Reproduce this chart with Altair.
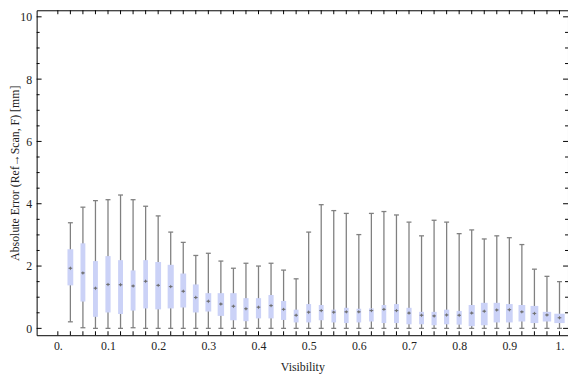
import altair as alt
import pandas as pd

# ---- data ----
visibility = [0.025, 0.05, 0.075, 0.1, 0.125, 0.15, 0.175, 0.2, 0.225, 0.25,
              0.275, 0.3, 0.325, 0.35, 0.375, 0.4, 0.425, 0.45, 0.475, 0.5,
              0.525, 0.55, 0.575, 0.6, 0.625, 0.65, 0.675, 0.7, 0.725, 0.75,
              0.775, 0.8, 0.825, 0.85, 0.875, 0.9, 0.925, 0.95, 0.975, 1.0]
whisker_low = [0.21, 0.02, 0.0, 0.0, 0.0, 0.02, 0.0, 0.0, 0.0, 0.0,
               0.0, 0.0, 0.0, 0.0, 0.0, 0.0, 0.0, 0.0, 0.0, 0.0,
               0.0, 0.0, 0.0, 0.0, 0.0, 0.0, 0.0, 0.0, 0.0, 0.0,
               0.0, 0.0, 0.0, 0.0, 0.0, 0.0, 0.0, 0.0, 0.0, 0.0]
q1 = [1.38, 0.86, 0.37, 0.51, 0.46, 0.57, 0.64, 0.61, 0.64, 0.67,
      0.51, 0.54, 0.40, 0.26, 0.23, 0.32, 0.32, 0.27, 0.19, 0.19,
      0.26, 0.19, 0.17, 0.19, 0.22, 0.17, 0.17, 0.13, 0.13, 0.10,
      0.13, 0.12, 0.07, 0.10, 0.19, 0.19, 0.22, 0.17, 0.22, 0.17]
median = [1.93, 1.78, 1.29, 1.41, 1.40, 1.36, 1.51, 1.38, 1.34, 1.19,
          0.99, 0.87, 0.78, 0.71, 0.63, 0.68, 0.73, 0.61, 0.42, 0.52,
          0.57, 0.52, 0.53, 0.53, 0.57, 0.61, 0.57, 0.49, 0.42, 0.40,
          0.43, 0.42, 0.49, 0.55, 0.59, 0.60, 0.53, 0.48, 0.43, 0.34]
q3 = [2.54, 2.73, 2.16, 2.32, 2.19, 1.86, 2.19, 2.13, 2.04, 1.76,
      1.41, 1.13, 1.13, 1.13, 0.97, 0.97, 1.07, 0.88, 0.60, 0.78,
      0.75, 0.60, 0.66, 0.63, 0.64, 0.75, 0.78, 0.66, 0.53, 0.53,
      0.60, 0.56, 0.75, 0.82, 0.82, 0.78, 0.75, 0.72, 0.53, 0.47]
whisker_high = [3.39, 3.89, 4.10, 4.13, 4.28, 4.13, 3.92, 3.61, 3.09, 2.76,
                2.34, 2.41, 2.16, 1.93, 2.09, 2.00, 2.09, 1.87, 1.59, 3.09,
                3.97, 3.78, 3.69, 3.01, 3.69, 3.75, 3.64, 3.41, 2.97, 3.47,
                3.41, 3.04, 3.16, 2.87, 2.97, 2.91, 2.69, 1.90, 1.67, 1.50]
# relative box width (largest box = 1)
box_weight = [0.56, 0.47, 0.47, 0.50, 0.47, 0.47, 0.45, 0.56, 0.59, 0.56,
              0.56, 0.56, 0.62, 0.62, 0.50, 0.50, 0.50, 0.50, 0.47, 0.47,
              0.47, 0.45, 0.45, 0.45, 0.45, 0.45, 0.47, 0.50, 0.47, 0.50,
              0.50, 0.50, 0.59, 0.65, 0.61, 0.65, 0.65, 0.75, 0.81, 1.00]

x_tick_values = [round(0.025 * k, 3) for k in range(41)]
x_label_values = [0.0, 0.1, 0.2, 0.3, 0.4, 0.5, 0.6, 0.7, 0.8, 0.9, 1.0]
y_major_values = [0, 2, 4, 6, 8, 10]
y_minor_values = [v / 2 for v in range(21) if v % 4 != 0]

x_title = "Visibility"
y_title = "Absolute Error (Ref\u2192Scan, F) [mm]"

# ---- tables ----
df = pd.DataFrame({"v": visibility, "lo": whisker_low, "q1": q1, "med": median,
                   "q3": q3, "hi": whisker_high, "w": box_weight})
caps = pd.concat([pd.DataFrame({"v": visibility, "lo": whisker_low}),
                  pd.DataFrame({"v": visibility, "lo": whisker_high})])
xt = pd.DataFrame({"v": x_tick_values})
ymaj = pd.DataFrame({"lo": y_major_values})
ymin = pd.DataFrame({"lo": y_minor_values})

W, H = 538, 329
FONT = "'Liberation Serif', 'Times New Roman', Times, serif"
GRAY = "#808080"
BOX = "#CBD2F7"
TXT = "#222222"

xscale = alt.Scale(domain=[-0.0324, 1.0071], nice=False, zero=False)
yscale = alt.Scale(domain=[-0.22, 10.21], nice=False, zero=False)

xaxis = alt.Axis(values=x_label_values, title=x_title, grid=False, ticks=False,
                 domain=False, labelPadding=5, titlePadding=11,
                 labelFont=FONT, titleFont=FONT, labelFontSize=12, titleFontSize=12,
                 labelColor=TXT, titleColor=TXT, titleFontWeight="normal",
                 labelFlush=False, labelOverlap=False, labelBound=False,
                 labelExpr="datum.value == 0 ? '0.' : (datum.value == 1 ? '1.' : format(datum.value, '.1f'))")
yaxis = alt.Axis(values=y_major_values, title=y_title, grid=False, ticks=False,
                 domain=False, labelPadding=5, format="d",
                 labelFont=FONT, titleFont=FONT, labelFontSize=12, titleFontSize=12,
                 labelColor=TXT, titleColor=TXT, titleFontWeight="normal",
                 titleX=-15, titleBaseline="bottom", titleAngle=270)

X = alt.X("v:Q", scale=xscale, axis=xaxis)


def Y(field):
    return alt.Y(field, type="quantitative", scale=yscale, axis=yaxis)


whiskers = alt.Chart(df).mark_rule(color=GRAY, strokeWidth=1.3).encode(
    x=X, y=Y("lo"), y2="hi:Q",
)
cap_marks = alt.Chart(caps).mark_point(shape="stroke", color=GRAY, size=25,
                                        strokeWidth=1.3, filled=False, opacity=1).encode(
    x=X, y=Y("lo"),
)
boxes = alt.Chart(df).mark_bar(color=BOX, opacity=1).encode(
    x=X, y=Y("q1"), y2="q3:Q",
    size=alt.Size("w:Q", scale=alt.Scale(domain=[0, 1], range=[0, 10.5]), legend=None),
)
med_diamond = alt.Chart(df).mark_point(shape="M0,-1L0.55,0L0,1L-0.55,0Z", filled=True,
                                        color="#707070", size=16, opacity=1).encode(
    x=X, y=Y("med"),
)
med_bar = alt.Chart(df).mark_point(shape="stroke", color="#707070", size=14,
                                    strokeWidth=1, filled=False, opacity=1).encode(
    x=X, y=Y("med"),
)

tick_color = "#000000"
bottom_ticks = alt.Chart(xt).mark_rule(color=tick_color, strokeWidth=1).encode(
    x=X, y=alt.value(H), y2=alt.value(H - 4))
top_ticks = alt.Chart(xt).mark_rule(color=tick_color, strokeWidth=1).encode(
    x=X, y=alt.value(0), y2=alt.value(4))
left_major = alt.Chart(ymaj).mark_rule(color=tick_color, strokeWidth=1).encode(
    y=Y("lo"), x=alt.value(0), x2=alt.value(5))
left_minor = alt.Chart(ymin).mark_rule(color=tick_color, strokeWidth=1).encode(
    y=Y("lo"), x=alt.value(0), x2=alt.value(3))
right_major = alt.Chart(ymaj).mark_rule(color=tick_color, strokeWidth=1).encode(
    y=Y("lo"), x=alt.value(W), x2=alt.value(W - 5))
right_minor = alt.Chart(ymin).mark_rule(color=tick_color, strokeWidth=1).encode(
    y=Y("lo"), x=alt.value(W), x2=alt.value(W - 3))

chart = alt.layer(
    whiskers, cap_marks, boxes, med_diamond, med_bar,
    bottom_ticks, top_ticks, left_major, left_minor, right_major, right_minor,
).properties(
    width=W, height=H,
    autosize=alt.AutoSizeParams(type="none"),
    padding={"left": 29, "top": 0, "right": 0, "bottom": 40},
).configure_view(
    stroke="#000000", strokeWidth=1,
)

chart.save("out.html", embed_options={"renderer": "svg", "actions": False})
